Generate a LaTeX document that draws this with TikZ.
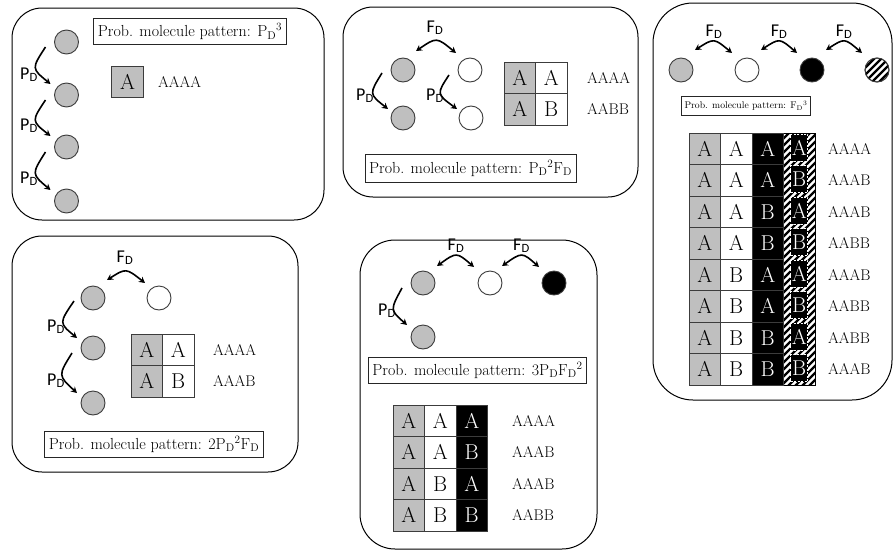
\documentclass[tikz,border=0pt]{standalone}
\usepackage{fontspec}
\newfontfamily\sfc{Carlito}
\usetikzlibrary{arrows.meta,calc}
\definecolor{cgray}{RGB}{191,191,191}
\definecolor{edge}{RGB}{60,60,60}
\tikzset{
 panel/.style={draw=black, line width=1pt},
 lbl/.style={draw=black!85, line width=0.9pt, fill=white, inner xsep=4pt, inner ysep=0pt, minimum height=26pt, font=\fontsize{16}{18}\selectfont},
 mol/.style={circle, draw=edge, line width=0.9pt, minimum size=24pt, inner sep=0pt},
 gmol/.style={mol, fill=cgray},
 wmol/.style={mol, fill=white},
 bmol/.style={mol, fill=black},
 cell/.style={draw=edge, line width=0.8pt, minimum width=31.5pt, minimum height=31.5pt, inner sep=0pt, font=\fontsize{21.5}{21.5}\selectfont},
 gcell/.style={cell, fill=cgray},
 wcell/.style={cell, fill=white},
 bcell/.style={cell, fill=black, text=white},
 hbox/.style={fill=black, draw=white, dashed, dash pattern=on 2pt off 1.5pt, line width=0.8pt, minimum width=17pt, minimum height=27pt, inner sep=0pt, text=white, font=\fontsize{21.5}{21.5}\selectfont},
 seq/.style={anchor=west, inner sep=0pt, font=\fontsize{15.5}{15.5}\selectfont},
 sflab/.style={anchor=base, inner sep=0pt, font=\sfc\fontsize{18}{18}\selectfont},
 arr/.style={-{Stealth[length=6pt,width=6.5pt]}, line width=1.6pt},
 darr/.style={{Stealth[length=6pt,width=6.5pt]}-{Stealth[length=6pt,width=6.5pt]}, line width=1.6pt},
 stripe/.style={line width=2.4pt, black},
}
\begin{document}
\begin{tikzpicture}[x=1pt,y=-1pt]
\useasboundingbox (0,0) rectangle (896,554);
\fill[white] (0,0) rectangle (896,554);

% ---------------- Panel 1 ----------------
\draw[panel, rounded corners=30pt] (12,8) rectangle (324,220);
\node[lbl] (l1) at (190,31.5) {Prob. molecule pattern: P\textsubscript{D}\textsuperscript{3}};
\node[gmol] (a1) at (66.5,42) {};
\node[gmol] (a2) at (66.5,95) {};
\node[gmol] (a3) at (66.5,147) {};
\node[gmol] (a4) at (66.5,201) {};
\foreach \u/\v in {a1/a2,a2/a3,a3/a4}
  \draw[arr] ($(\u)+(-21,5)$) .. controls ($(\u)!0.5!(\v)+(-35,0)$) .. ($(\v)+(-16,-11)$);
\node[sflab] (pa1) at (29,79) {P\textsubscript{D}};
\node[sflab] (pa2) at (29,130) {P\textsubscript{D}};
\node[sflab] (pa3) at (29,183) {P\textsubscript{D}};
\node[gcell] (k1) at (127.5,82) {A};
\node[seq] (s1) at (158,82) {AAAA};

% ---------------- Panel 2 ----------------
\draw[panel, rounded corners=30pt] (343,7) rectangle (638,197);
\node[gmol] (b1) at (403,70) {};
\node[wmol] (b2) at (470,70) {};
\node[gmol] (b3) at (403,118) {};
\node[wmol] (b4) at (471,118) {};
\node[sflab] (fb1) at (435,32) {F\textsubscript{D}};
\draw[darr] ($(b1)+(13,-19)$) .. controls ($(b1)!0.5!(b2)+(0,-33)$) .. ($(b2)+(-14,-17)$);
\draw[arr] ($(b1)+(-21,3)$) .. controls ($(b1)!0.5!(b3)+(-34,0)$) .. ($(b3)+(-15,-9)$);
\draw[arr] ($(b2)+(-21,5)$) .. controls ($(b2)!0.5!(b4)+(-34,0)$) .. ($(b4)+(-14,-9)$);
\node[sflab] (pb1) at (365,100) {P\textsubscript{D}};
\node[sflab] (pb2) at (435,100) {P\textsubscript{D}};
\node[gcell] (kb11) at (519.75,77.75) {A};
\node[wcell] (kb12) at (551.25,77.75) {A};
\node[gcell] (kb21) at (519.75,109.25) {A};
\node[wcell] (kb22) at (551.25,109.25) {B};
\node[seq] (sb1) at (587,78) {AAAA};
\node[seq] (sb2) at (587,109) {AABB};
\node[lbl, minimum height=28pt] (l2) at (470.5,168) {Prob. molecule pattern: P\textsubscript{D}\textsuperscript{2}F\textsubscript{D}};

% ---------------- Panel 3 ----------------
\draw[panel, rounded corners=40pt] (653,3) rectangle (892,400);
\node[gmol] (c1) at (681,70) {};
\node[wmol] (c2) at (747,70) {};
\node[bmol] (c3) at (812,70) {};
\node[wmol] (c4) at (877,70) {};
\begin{scope}
  \clip (c4.center) circle (12pt);
  \foreach \k in {-4,...,4}
    \draw[stripe] ($(c4)+(-20,20+7*\k)$) -- ++(40,-40);
\end{scope}
\draw[edge, line width=0.9pt] (c4.center) circle (12pt);
\node[sflab] (fc1) at (714,36) {F\textsubscript{D}};
\node[sflab] (fc2) at (779,36) {F\textsubscript{D}};
\node[sflab] (fc3) at (844,36) {F\textsubscript{D}};
\foreach \u/\v in {c1/c2,c2/c3,c3/c4}
  \draw[darr] ($(\u)+(14,-20)$) .. controls ($(\u)!0.5!(\v)+(0,-32)$) .. ($(\v)+(-15,-17)$);
\node[lbl, minimum height=19pt, inner xsep=3pt, font=\fontsize{9.7}{11}\selectfont] (l3) at (746,105.5) {Prob. molecule pattern: F\textsubscript{D}\textsuperscript{3}};
% hatched column background
\begin{scope}
  \clip (783.5,133) rectangle (815,385);
  \fill[white] (783.5,133) rectangle (815,385);
  \foreach \k in {0,...,42}
    \draw[stripe] (775,140+7*\k) -- ++(50,-50);
\end{scope}
\draw[black, line width=0.8pt] (783.5,133) rectangle (815,385);
\foreach \r/\xa/\xb/\xc/\xs [evaluate=\r as \yy using 117.25+31.5*\r] in
  {1/A/A/A/AAAA, 2/A/A/B/AAAB, 3/A/B/A/AAAB, 4/A/B/B/AABB,
   5/B/A/A/AAAB, 6/B/A/B/AABB, 7/B/B/A/AABB, 8/B/B/B/AAAB}{
  \node[gcell] (r\r c1) at (704.75,\yy) {A};
  \node[wcell] (r\r c2) at (736.25,\yy) {\xa};
  \node[bcell] (r\r c3) at (767.75,\yy) {\xb};
  \node[hbox] (r\r c4) at (799.25,\yy-1) {\xc};
  \node[seq] (r\r s) at (828,\yy) {\xs};
}

% ---------------- Panel 4 ----------------
\draw[panel, rounded corners=30pt] (12,236) rectangle (298,472);
\node[gmol] (d1) at (93,298) {};
\node[wmol] (d2) at (159,298) {};
\node[gmol] (d3) at (93,348) {};
\node[gmol] (d4) at (93,403) {};
\node[sflab] (fd1) at (125,262) {F\textsubscript{D}};
\draw[darr] ($(d1)+(14,-18)$) .. controls ($(d1)!0.5!(d2)+(0,-30)$) .. ($(d2)+(-14,-15)$);
\draw[arr] ($(d1)+(-19,3)$) .. controls ($(d1)!0.5!(d3)+(-34,0)$) .. ($(d3)+(-16,-10)$);
\draw[arr] ($(d3)+(-21,5)$) .. controls ($(d3)!0.5!(d4)+(-35,0)$) .. ($(d4)+(-16,-10)$);
\node[sflab] (pd1) at (56,331) {P\textsubscript{D}};
\node[sflab] (pd2) at (56,385) {P\textsubscript{D}};
\node[gcell] (kd11) at (146.75,349.75) {A};
\node[wcell] (kd12) at (178.25,349.75) {A};
\node[gcell] (kd21) at (146.75,381.25) {A};
\node[wcell] (kd22) at (178.25,381.25) {B};
\node[seq] (sd1) at (213,350) {AAAA};
\node[seq] (sd2) at (213,381) {AAAB};
\node[lbl] (l4) at (154,444) {Prob. molecule pattern: 2P\textsubscript{D}\textsuperscript{2}F\textsubscript{D}};

% ---------------- Panel 5 ----------------
\draw[panel, rounded corners=35pt] (360,240) rectangle (597,549);
\node[gmol] (e1) at (423,283) {};
\node[wmol] (e2) at (490,283) {};
\node[bmol] (e3) at (554,283) {};
\node[gmol] (e4) at (423,337) {};
\node[sflab] (fe1) at (456,250) {F\textsubscript{D}};
\node[sflab] (fe2) at (521.5,250) {F\textsubscript{D}};
\draw[darr] ($(e1)+(14,-17)$) .. controls ($(e1)!0.5!(e2)+(0,-31)$) .. ($(e2)+(-16,-16)$);
\draw[darr] ($(e2)+(12,-17)$) .. controls ($(e2)!0.5!(e3)+(0,-31)$) .. ($(e3)+(-15,-16)$);
\draw[arr] ($(e1)+(-21,5)$) .. controls ($(e1)!0.5!(e4)+(-33,0)$) .. ($(e4)+(-16,-12)$);
\node[sflab] (pe1) at (387,315) {P\textsubscript{D}};
\node[lbl] (l5) at (477.5,370) {Prob. molecule pattern: 3P\textsubscript{D}F\textsubscript{D}\textsuperscript{2}};
\foreach \r/\xa/\xb/\xs [evaluate=\r as \yy using 389.25+31.5*\r] in
  {1/A/A/AAAA, 2/A/B/AAAB, 3/B/A/AAAB, 4/B/B/AABB}{
  \node[gcell] (q\r c1) at (408.75,\yy) {A};
  \node[wcell] (q\r c2) at (440.25,\yy) {\xa};
  \node[bcell] (q\r c3) at (471.75,\yy) {\xb};
  \node[seq] (q\r s) at (512,\yy) {\xs};
}
\end{tikzpicture}
\end{document}
